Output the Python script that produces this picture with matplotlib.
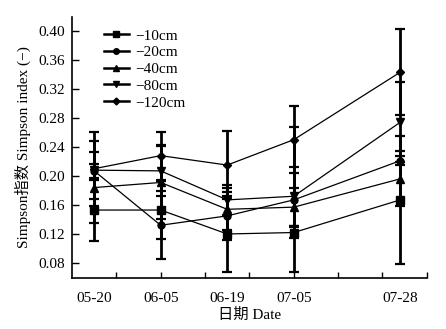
import matplotlib
matplotlib.use("Agg")
import matplotlib.pyplot as plt
from matplotlib.lines import Line2D

# sampling dates and their positions on the (unevenly spaced) x axis
dates = ["05-20", "06-05", "06-19", "07-05", "07-28"]
date_pos = [0.5, 2.0, 3.5, 5.0, 7.4]

depths = ["\u221210cm", "\u221220cm", "\u221240cm", "\u221280cm", "\u2212120cm"]
markers = ["s", "o", "^", "v", "D"]

simpson_10 = [0.153, 0.153, 0.120, 0.122, 0.167]
simpson_20 = [0.207, 0.132, 0.145, 0.167, 0.221]
simpson_40 = [0.184, 0.191, 0.154, 0.157, 0.196]
simpson_80 = [0.208, 0.207, 0.167, 0.172, 0.274]
simpson_120 = [0.210, 0.228, 0.215, 0.250, 0.343]

err_10 = [0.042, 0.040, 0.052, 0.008, 0.088]
err_20 = [0.010, 0.047, 0.033, 0.100, 0.006]
err_40 = [0.049, 0.050, 0.029, 0.026, 0.038]
err_80 = [0.040, 0.035, 0.021, 0.041, 0.055]
err_120 = [0.051, 0.033, 0.047, 0.046, 0.059]

series = [simpson_10, simpson_20, simpson_40, simpson_80, simpson_120]
errors = [err_10, err_20, err_40, err_80, err_120]
marker_sizes = [6, 5, 5.5, 5.5, 4.5]

FONT = ["Liberation Serif", "Noto Sans CJK SC"]
plt.rcParams["font.family"] = FONT
plt.rcParams["font.size"] = 11

fig = plt.figure(figsize=(4.46, 3.29), dpi=100)
ax = fig.add_axes([0.1614, 0.155, 0.7956, 0.793])

for vals, errs, mk, ms in zip(series, errors, markers, marker_sizes):
    ax.errorbar(date_pos, vals, yerr=errs, fmt="none", ecolor="black",
                elinewidth=2.0, capsize=3.5, capthick=1.6, zorder=2)
    ax.plot(date_pos, vals, color="black", linewidth=0.9, marker=mk,
            markersize=ms, markerfacecolor="black", markeredgecolor="black",
            zorder=3)

ax.set_xlim(0, 8)
ax.set_ylim(0.0593, 0.419)

ax.set_yticks([0.08, 0.12, 0.16, 0.20, 0.24, 0.28, 0.32, 0.36, 0.40])
ax.set_yticklabels([f"{v:.2f}" for v in ax.get_yticks()])
ax.tick_params(axis="y", direction="in", length=5, width=1, pad=5)

ax.xaxis.remove_overlapping_locs = False
ax.set_xticks(range(1, 9))
ax.set_xticklabels([])
ax.tick_params(axis="x", which="major", direction="in", length=4, width=1)
ax.set_xticks(date_pos, minor=True)
ax.set_xticklabels(dates, minor=True)
ax.tick_params(axis="x", which="minor", length=0, pad=10)

for side in ["top", "right"]:
    ax.spines[side].set_visible(False)
for side in ["left", "bottom"]:
    ax.spines[side].set_linewidth(1.2)

ax.set_xlabel("日期 Date", labelpad=2)
ax.set_ylabel("Simpson指数 Simpson index (\u2212)", labelpad=5)

handles = [Line2D([], [], color="black", linewidth=1.8, marker=mk, markersize=ms - 1)
           for mk, ms in zip(markers, marker_sizes)]
ax.legend(handles, depths, loc="upper left", bbox_to_anchor=(0.065, 0.99),
          frameon=False, handlelength=1.6, handletextpad=0.4,
          labelspacing=0.2, borderaxespad=0.2)

fig.savefig("out.png", dpi=100, facecolor="white")
